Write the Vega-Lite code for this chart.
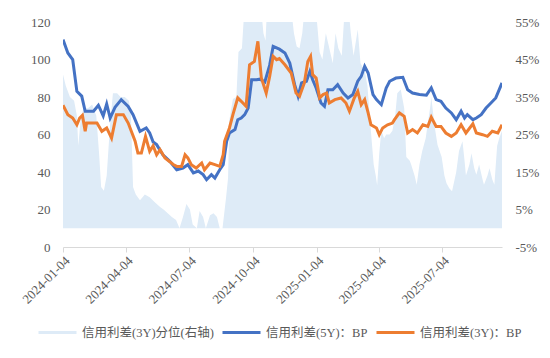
{
  "$schema": "https://vega.github.io/schema/vega-lite/v6.json",
  "width": 439,
  "height": 225,
  "autosize": {"type": "none"},
  "padding": {"left": 63, "top": 22, "right": 48, "bottom": 111},
  "config": {
    "view": {"stroke": null},
    "font": "Liberation Serif",
    "axis": {"labelFont": "Liberation Serif", "labelFontSize": 13, "labelColor": "#595959", "title": null, "grid": false, "labelOverlap": false}
  },
  "datasets": {
    "pct": [
      {"date": "2024-01-04", "pct": 41}, {"date": "2024-01-08", "pct": 38}, {"date": "2024-01-14", "pct": 35}, {"date": "2024-01-20", "pct": 34},
      {"date": "2024-01-24", "pct": 30}, {"date": "2024-01-26", "pct": 22}, {"date": "2024-01-30", "pct": 30}, {"date": "2024-02-03", "pct": 32},
      {"date": "2024-02-09", "pct": 32}, {"date": "2024-02-15", "pct": 33}, {"date": "2024-02-21", "pct": 30}, {"date": "2024-02-25", "pct": 20},
      {"date": "2024-02-28", "pct": 11}, {"date": "2024-03-03", "pct": 10}, {"date": "2024-03-07", "pct": 14}, {"date": "2024-03-12", "pct": 28},
      {"date": "2024-03-16", "pct": 36}, {"date": "2024-03-22", "pct": 36}, {"date": "2024-03-27", "pct": 35}, {"date": "2024-04-02", "pct": 35},
      {"date": "2024-04-08", "pct": 34}, {"date": "2024-04-11", "pct": 30}, {"date": "2024-04-14", "pct": 11}, {"date": "2024-04-18", "pct": 9},
      {"date": "2024-04-24", "pct": 7.5}, {"date": "2024-05-01", "pct": 9}, {"date": "2024-05-08", "pct": 8.3}, {"date": "2024-05-15", "pct": 7},
      {"date": "2024-05-23", "pct": 5.7}, {"date": "2024-05-28", "pct": 5}, {"date": "2024-06-03", "pct": 4}, {"date": "2024-06-09", "pct": 3},
      {"date": "2024-06-15", "pct": 2.2}, {"date": "2024-06-20", "pct": 0}, {"date": "2024-06-25", "pct": 3}, {"date": "2024-06-30", "pct": 6.5},
      {"date": "2024-07-05", "pct": 5}, {"date": "2024-07-09", "pct": 1}, {"date": "2024-07-15", "pct": 0}, {"date": "2024-07-19", "pct": 4.6},
      {"date": "2024-07-24", "pct": 3}, {"date": "2024-07-28", "pct": 0}, {"date": "2024-08-03", "pct": 3.5}, {"date": "2024-08-08", "pct": 4},
      {"date": "2024-08-13", "pct": 3}, {"date": "2024-08-17", "pct": 0}, {"date": "2024-08-21", "pct": 0}, {"date": "2024-08-26", "pct": 8},
      {"date": "2024-08-29", "pct": 13.4}, {"date": "2024-08-31", "pct": 29}, {"date": "2024-09-05", "pct": 34.5}, {"date": "2024-09-10", "pct": 35},
      {"date": "2024-09-13", "pct": 47}, {"date": "2024-09-18", "pct": 48}, {"date": "2024-09-22", "pct": 60}, {"date": "2024-09-29", "pct": 62},
      {"date": "2024-10-06", "pct": 62}, {"date": "2024-10-14", "pct": 62}, {"date": "2024-10-19", "pct": 52}, {"date": "2024-10-22", "pct": 50},
      {"date": "2024-10-25", "pct": 62}, {"date": "2024-11-04", "pct": 62}, {"date": "2024-11-11", "pct": 62}, {"date": "2024-11-19", "pct": 62},
      {"date": "2024-11-26", "pct": 62}, {"date": "2024-12-02", "pct": 52}, {"date": "2024-12-06", "pct": 48.5}, {"date": "2024-12-10", "pct": 48},
      {"date": "2024-12-14", "pct": 52}, {"date": "2024-12-19", "pct": 62}, {"date": "2024-12-25", "pct": 62}, {"date": "2025-01-01", "pct": 62},
      {"date": "2025-01-08", "pct": 47}, {"date": "2025-01-12", "pct": 45}, {"date": "2025-01-17", "pct": 52}, {"date": "2025-01-22", "pct": 48},
      {"date": "2025-01-27", "pct": 44}, {"date": "2025-01-31", "pct": 52}, {"date": "2025-02-04", "pct": 48}, {"date": "2025-02-09", "pct": 46},
      {"date": "2025-02-13", "pct": 58}, {"date": "2025-02-17", "pct": 62}, {"date": "2025-02-22", "pct": 52}, {"date": "2025-02-26", "pct": 46},
      {"date": "2025-03-04", "pct": 53}, {"date": "2025-03-08", "pct": 44}, {"date": "2025-03-14", "pct": 42}, {"date": "2025-03-18", "pct": 38},
      {"date": "2025-03-22", "pct": 28}, {"date": "2025-03-27", "pct": 17}, {"date": "2025-03-30", "pct": 14}, {"date": "2025-04-01", "pct": 11.5},
      {"date": "2025-04-04", "pct": 20}, {"date": "2025-04-07", "pct": 26}, {"date": "2025-04-11", "pct": 24}, {"date": "2025-04-14", "pct": 25},
      {"date": "2025-04-19", "pct": 25}, {"date": "2025-04-23", "pct": 26}, {"date": "2025-04-27", "pct": 30}, {"date": "2025-04-30", "pct": 36},
      {"date": "2025-05-05", "pct": 37}, {"date": "2025-05-07", "pct": 35}, {"date": "2025-05-10", "pct": 32}, {"date": "2025-05-13", "pct": 19},
      {"date": "2025-05-18", "pct": 18}, {"date": "2025-05-20", "pct": 17}, {"date": "2025-05-25", "pct": 14}, {"date": "2025-05-28", "pct": 11.6},
      {"date": "2025-06-01", "pct": 17}, {"date": "2025-06-05", "pct": 20.6}, {"date": "2025-06-10", "pct": 24}, {"date": "2025-06-12", "pct": 26.7},
      {"date": "2025-06-17", "pct": 33}, {"date": "2025-06-18", "pct": 35}, {"date": "2025-06-23", "pct": 27}, {"date": "2025-06-27", "pct": 22.3},
      {"date": "2025-07-03", "pct": 19}, {"date": "2025-07-07", "pct": 14}, {"date": "2025-07-10", "pct": 12}, {"date": "2025-07-14", "pct": 10.7},
      {"date": "2025-07-18", "pct": 9.9}, {"date": "2025-07-24", "pct": 15}, {"date": "2025-07-28", "pct": 20.6}, {"date": "2025-08-02", "pct": 23.2},
      {"date": "2025-08-05", "pct": 18}, {"date": "2025-08-07", "pct": 14.1}, {"date": "2025-08-12", "pct": 17}, {"date": "2025-08-15", "pct": 20},
      {"date": "2025-08-19", "pct": 16}, {"date": "2025-08-22", "pct": 14.3}, {"date": "2025-08-26", "pct": 17}, {"date": "2025-08-31", "pct": 13},
      {"date": "2025-09-02", "pct": 11.6}, {"date": "2025-09-07", "pct": 14}, {"date": "2025-09-10", "pct": 16}, {"date": "2025-09-14", "pct": 13},
      {"date": "2025-09-17", "pct": 11.6}, {"date": "2025-09-21", "pct": 22}, {"date": "2025-09-24", "pct": 24}, {"date": "2025-09-28", "pct": 26}
    ],
    "bp5": [
      {"date": "2024-01-04", "bp": 110.6}, {"date": "2024-01-11", "bp": 103.5}, {"date": "2024-01-18", "bp": 100}, {"date": "2024-01-24", "bp": 83},
      {"date": "2024-01-31", "bp": 80.5}, {"date": "2024-02-05", "bp": 72.4}, {"date": "2024-02-17", "bp": 72.4}, {"date": "2024-02-24", "bp": 75.6},
      {"date": "2024-03-02", "bp": 69.9}, {"date": "2024-03-07", "bp": 76.3}, {"date": "2024-03-12", "bp": 68.8}, {"date": "2024-03-19", "bp": 74.5},
      {"date": "2024-03-28", "bp": 78.6}, {"date": "2024-04-07", "bp": 75}, {"date": "2024-04-14", "bp": 70.6}, {"date": "2024-04-24", "bp": 61.7},
      {"date": "2024-05-03", "bp": 63.5}, {"date": "2024-05-08", "bp": 60.8}, {"date": "2024-05-13", "bp": 56}, {"date": "2024-05-18", "bp": 54.6},
      {"date": "2024-05-27", "bp": 49.2}, {"date": "2024-06-06", "bp": 45.7}, {"date": "2024-06-16", "bp": 41.2}, {"date": "2024-06-25", "bp": 42.1},
      {"date": "2024-07-02", "bp": 43.9}, {"date": "2024-07-10", "bp": 39.5}, {"date": "2024-07-17", "bp": 40.5}, {"date": "2024-07-24", "bp": 38.6},
      {"date": "2024-07-29", "bp": 35.9}, {"date": "2024-08-05", "bp": 38.6}, {"date": "2024-08-10", "bp": 36.8}, {"date": "2024-08-17", "bp": 41.2},
      {"date": "2024-08-22", "bp": 43.9}, {"date": "2024-08-27", "bp": 56.4}, {"date": "2024-08-31", "bp": 60.8}, {"date": "2024-09-08", "bp": 62.6},
      {"date": "2024-09-12", "bp": 67.9}, {"date": "2024-09-17", "bp": 68.8}, {"date": "2024-09-22", "bp": 70.6}, {"date": "2024-09-27", "bp": 74.1},
      {"date": "2024-10-02", "bp": 89.2}, {"date": "2024-10-09", "bp": 89.2}, {"date": "2024-10-14", "bp": 89.5}, {"date": "2024-10-21", "bp": 88},
      {"date": "2024-10-28", "bp": 97}, {"date": "2024-11-02", "bp": 107}, {"date": "2024-11-11", "bp": 105.5}, {"date": "2024-11-19", "bp": 103.5},
      {"date": "2024-11-26", "bp": 98.1}, {"date": "2024-12-03", "bp": 86.6}, {"date": "2024-12-08", "bp": 80.4}, {"date": "2024-12-13", "bp": 87.5},
      {"date": "2024-12-20", "bp": 88.4}, {"date": "2024-12-25", "bp": 93.7}, {"date": "2024-12-29", "bp": 89.2}, {"date": "2025-01-03", "bp": 84.8},
      {"date": "2025-01-10", "bp": 76.8}, {"date": "2025-01-15", "bp": 75}, {"date": "2025-01-20", "bp": 83.9}, {"date": "2025-01-27", "bp": 83.9},
      {"date": "2025-02-03", "bp": 86.6}, {"date": "2025-02-11", "bp": 82.1}, {"date": "2025-02-18", "bp": 79.5}, {"date": "2025-02-25", "bp": 81.3},
      {"date": "2025-03-04", "bp": 88.4}, {"date": "2025-03-09", "bp": 91}, {"date": "2025-03-14", "bp": 96.4}, {"date": "2025-03-19", "bp": 92.8},
      {"date": "2025-03-26", "bp": 81.3}, {"date": "2025-03-31", "bp": 78.6}, {"date": "2025-04-07", "bp": 75.9}, {"date": "2025-04-14", "bp": 84.8},
      {"date": "2025-04-19", "bp": 88.4}, {"date": "2025-04-28", "bp": 90.1}, {"date": "2025-05-08", "bp": 90.5}, {"date": "2025-05-15", "bp": 83.9},
      {"date": "2025-05-22", "bp": 82.1}, {"date": "2025-06-01", "bp": 81.3}, {"date": "2025-06-11", "bp": 81}, {"date": "2025-06-18", "bp": 84.8},
      {"date": "2025-06-25", "bp": 78.6}, {"date": "2025-07-02", "bp": 77.7}, {"date": "2025-07-09", "bp": 74.1}, {"date": "2025-07-17", "bp": 71.5},
      {"date": "2025-07-24", "bp": 67.9}, {"date": "2025-07-31", "bp": 72.4}, {"date": "2025-08-05", "bp": 68.8}, {"date": "2025-08-09", "bp": 70.6},
      {"date": "2025-08-17", "bp": 67.9}, {"date": "2025-08-22", "bp": 68.8}, {"date": "2025-08-29", "bp": 70.6}, {"date": "2025-09-05", "bp": 74.1},
      {"date": "2025-09-12", "bp": 76.8}, {"date": "2025-09-19", "bp": 79.5}, {"date": "2025-09-24", "bp": 83.9}, {"date": "2025-09-28", "bp": 87.5}
    ],
    "bp3": [
      {"date": "2024-01-04", "bp": 75.6}, {"date": "2024-01-11", "bp": 70.6}, {"date": "2024-01-18", "bp": 68.8}, {"date": "2024-01-24", "bp": 65.2},
      {"date": "2024-01-28", "bp": 68.8}, {"date": "2024-02-01", "bp": 70.2}, {"date": "2024-02-05", "bp": 61.7}, {"date": "2024-02-07", "bp": 66.1},
      {"date": "2024-02-22", "bp": 66.1}, {"date": "2024-02-29", "bp": 61.7}, {"date": "2024-03-07", "bp": 63.5}, {"date": "2024-03-14", "bp": 58.1},
      {"date": "2024-03-21", "bp": 70.6}, {"date": "2024-03-31", "bp": 70.6}, {"date": "2024-04-07", "bp": 66.1}, {"date": "2024-04-17", "bp": 56.4},
      {"date": "2024-04-21", "bp": 50.1}, {"date": "2024-04-26", "bp": 50.1}, {"date": "2024-05-02", "bp": 59}, {"date": "2024-05-08", "bp": 51},
      {"date": "2024-05-13", "bp": 54}, {"date": "2024-05-18", "bp": 49.2}, {"date": "2024-05-23", "bp": 51.9}, {"date": "2024-05-30", "bp": 47.5},
      {"date": "2024-06-06", "bp": 45.5}, {"date": "2024-06-11", "bp": 44}, {"date": "2024-06-16", "bp": 43}, {"date": "2024-06-23", "bp": 43},
      {"date": "2024-06-28", "bp": 49.2}, {"date": "2024-07-02", "bp": 47.5}, {"date": "2024-07-07", "bp": 43.9}, {"date": "2024-07-14", "bp": 42.1},
      {"date": "2024-07-22", "bp": 44.8}, {"date": "2024-07-26", "bp": 41.2}, {"date": "2024-08-03", "bp": 44.8}, {"date": "2024-08-10", "bp": 43.9},
      {"date": "2024-08-17", "bp": 43}, {"date": "2024-08-22", "bp": 49.2}, {"date": "2024-08-24", "bp": 56.4}, {"date": "2024-08-31", "bp": 63.5},
      {"date": "2024-09-05", "bp": 70.6}, {"date": "2024-09-12", "bp": 79.5}, {"date": "2024-09-17", "bp": 77.7}, {"date": "2024-09-24", "bp": 75},
      {"date": "2024-09-29", "bp": 97.2}, {"date": "2024-10-06", "bp": 99}, {"date": "2024-10-11", "bp": 109.7}, {"date": "2024-10-16", "bp": 90.1},
      {"date": "2024-10-23", "bp": 82.1}, {"date": "2024-10-28", "bp": 91}, {"date": "2024-11-02", "bp": 101.7}, {"date": "2024-11-07", "bp": 99.9},
      {"date": "2024-11-11", "bp": 100.5}, {"date": "2024-11-19", "bp": 97.2}, {"date": "2024-11-28", "bp": 92.8}, {"date": "2024-12-05", "bp": 82.1},
      {"date": "2024-12-10", "bp": 80.4}, {"date": "2024-12-17", "bp": 87.5}, {"date": "2024-12-22", "bp": 99}, {"date": "2024-12-26", "bp": 101.7},
      {"date": "2024-12-29", "bp": 91.9}, {"date": "2025-01-03", "bp": 90.1}, {"date": "2025-01-08", "bp": 79.5}, {"date": "2025-01-13", "bp": 81.3},
      {"date": "2025-01-18", "bp": 82.1}, {"date": "2025-01-22", "bp": 76.8}, {"date": "2025-01-30", "bp": 78.6}, {"date": "2025-02-08", "bp": 79.5},
      {"date": "2025-02-15", "bp": 76.8}, {"date": "2025-02-20", "bp": 72.4}, {"date": "2025-02-27", "bp": 79.5}, {"date": "2025-03-04", "bp": 83},
      {"date": "2025-03-09", "bp": 75.9}, {"date": "2025-03-14", "bp": 78.6}, {"date": "2025-03-19", "bp": 71.5}, {"date": "2025-03-23", "bp": 65.2},
      {"date": "2025-03-31", "bp": 63.5}, {"date": "2025-04-04", "bp": 59.9}, {"date": "2025-04-09", "bp": 63.5}, {"date": "2025-04-16", "bp": 65.2},
      {"date": "2025-04-23", "bp": 66.1}, {"date": "2025-04-26", "bp": 67.9}, {"date": "2025-05-03", "bp": 71.5}, {"date": "2025-05-10", "bp": 69.7},
      {"date": "2025-05-15", "bp": 60.8}, {"date": "2025-05-22", "bp": 62.6}, {"date": "2025-05-29", "bp": 60.8}, {"date": "2025-06-06", "bp": 65.2},
      {"date": "2025-06-13", "bp": 64.3}, {"date": "2025-06-18", "bp": 69.2}, {"date": "2025-06-25", "bp": 64.3}, {"date": "2025-07-02", "bp": 64.3},
      {"date": "2025-07-09", "bp": 60.8}, {"date": "2025-07-17", "bp": 59}, {"date": "2025-07-24", "bp": 60.8}, {"date": "2025-07-31", "bp": 65.2},
      {"date": "2025-08-07", "bp": 60.8}, {"date": "2025-08-17", "bp": 65.7}, {"date": "2025-08-22", "bp": 60.8}, {"date": "2025-08-31", "bp": 59.9},
      {"date": "2025-09-07", "bp": 59}, {"date": "2025-09-14", "bp": 61.7}, {"date": "2025-09-22", "bp": 60.8}, {"date": "2025-09-28", "bp": 65.2}
    ]
  },
  "encoding": {
    "x": {
      "field": "date", "type": "temporal",
      "scale": {"type": "utc", "domain": [{"year": 2024, "month": 1, "date": 4, "utc": true}, {"year": 2025, "month": 9, "date": 28, "utc": true}]},
      "axis": {
        "values": [
          {"year": 2024, "month": 1, "date": 4, "utc": true}, {"year": 2024, "month": 4, "date": 4, "utc": true},
          {"year": 2024, "month": 7, "date": 4, "utc": true}, {"year": 2024, "month": 10, "date": 4, "utc": true},
          {"year": 2025, "month": 1, "date": 4, "utc": true}, {"year": 2025, "month": 4, "date": 4, "utc": true},
          {"year": 2025, "month": 7, "date": 4, "utc": true}
        ],
        "labelExpr": "utcFormat(datum.value, '%Y-%m-%d')", "labelAngle": -45, "labelAlign": "right", "labelBaseline": "top",
        "labelPadding": 2, "domainColor": "#d9d9d9", "tickColor": "#d9d9d9", "tickSize": 5, "labelOverlap": false, "labelBound": false
      }
    }
  },
  "layer": [
    {
      "data": {"name": "pct"},
      "mark": {"type": "area", "clip": true, "opacity": 1},
      "encoding": {
        "y": {
          "field": "pct", "type": "quantitative",
          "scale": {"domain": [-5, 55], "nice": false, "zero": false},
          "axis": {"orient": "right", "values": [-5, 5, 15, 25, 35, 45, 55], "labelExpr": "datum.value + '%'", "domain": false, "ticks": false, "labelPadding": 13, "labelOverlap": false}
        },
        "y2": {"datum": 0},
        "color": {
          "datum": "信用利差(3Y)分位(右轴)",
          "scale": {"domain": ["信用利差(3Y)分位(右轴)", "信用利差(5Y)：BP", "信用利差(3Y)：BP"], "range": ["#deebf7", "#4472c4", "#ed7d31"]},
          "legend": {
            "orient": "none", "legendX": -26, "legendY": 290, "direction": "horizontal", "title": null,
            "symbolType": "stroke", "symbolSize": 1444, "symbolStrokeWidth": 3,
            "labelFont": "'Liberation Serif', 'Noto Sans CJK SC'", "labelFontSize": 12.5, "labelColor": "#595959",
            "labelOffset": 4, "columnPadding": 2,
            "encode": {"symbols": {"update": {"stroke": {"scale": "color", "field": "value"}, "strokeWidth": {"signal": "datum.index === 0 ? 7 : 3"}, "opacity": {"value": 1}}}}
          }
        }
      }
    },
    {
      "encoding": {
        "y": {
          "field": "bp", "type": "quantitative",
          "scale": {"domain": [0, 120], "nice": false},
          "axis": {"orient": "left", "values": [0, 20, 40, 60, 80, 100, 120], "tickCount": 7, "domain": false, "ticks": false, "labelPadding": 13, "labelOverlap": false}
        }
      },
      "layer": [
        {
          "data": {"name": "bp5"},
          "mark": {"type": "line", "strokeWidth": 3, "clip": true},
          "encoding": {"color": {"datum": "信用利差(5Y)：BP"}}
        },
        {
          "data": {"name": "bp3"},
          "mark": {"type": "line", "strokeWidth": 3, "clip": true},
          "encoding": {"color": {"datum": "信用利差(3Y)：BP"}}
        }
      ]
    }
  ],
  "resolve": {"scale": {"y": "independent"}}
}
